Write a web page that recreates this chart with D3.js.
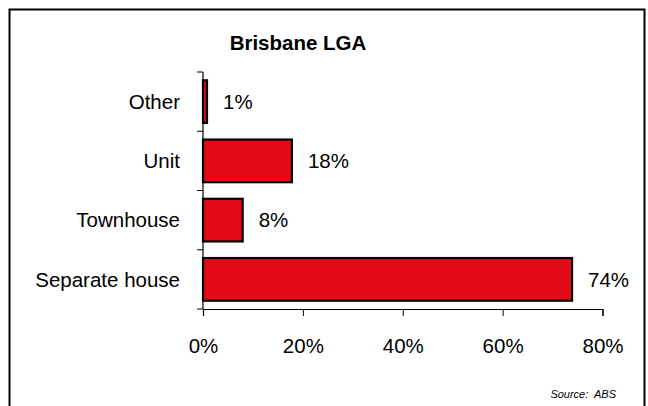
<!DOCTYPE html>
<html>
<head>
<meta charset="utf-8">
<script src="https://cdn.jsdelivr.net/npm/d3@7"></script>
<style>
  body { margin: 0; background: #fff; }
  text { font-family: "Liberation Sans", Arial, sans-serif; fill: #000; }
</style>
</head>
<body>
<div id="chart"></div>
<script>
var width = 648, height = 406;

// data
var categories = ["Other", "Unit", "Townhouse", "Separate house"];
var shares = [0.8, 17.8, 7.95, 73.9];
var valueLabels = ["1%", "18%", "8%", "74%"];
var xTicks = [0, 20, 40, 60, 80];

var margin = {top: 72, left: 203, right: 45.5, bottom: 97};
var fontSize = "20.5px";

var svg = d3.select("#chart").append("svg")
    .attr("width", width)
    .attr("height", height);

// frame round the whole chart (bottom edge runs off the picture)
svg.append("rect")
    .attr("x", 9.5)
    .attr("y", 9.5)
    .attr("width", 635)
    .attr("height", 420)
    .attr("fill", "none")
    .attr("stroke", "#000")
    .attr("stroke-width", 2);

var x = d3.scaleLinear()
    .domain([0, 80])
    .range([margin.left, width - margin.right]);

var y = d3.scaleBand()
    .domain(categories)
    .range([margin.top, height - margin.bottom])
    .paddingInner(0.28)
    .paddingOuter(0.14);

// bars
svg.selectAll("rect.bar")
    .data(categories)
    .enter().append("rect")
    .attr("class", "bar")
    .attr("x", x(0))
    .attr("y", function(d) { return y(d); })
    .attr("width", function(d, i) { return x(shares[i]) - x(0); })
    .attr("height", y.bandwidth())
    .attr("fill", "#e30b17")
    .attr("stroke", "#000")
    .attr("stroke-width", 2.2);

// value labels
svg.selectAll("text.val")
    .data(categories)
    .enter().append("text")
    .attr("class", "val")
    .attr("x", function(d, i) { return x(shares[i]) + 16; })
    .attr("y", function(d) { return y(d) + y.bandwidth() / 2; })
    .attr("dy", "0.35em")
    .style("font-size", fontSize)
    .text(function(d, i) { return valueLabels[i]; });

// x axis
var xAxis = svg.append("g")
    .attr("transform", "translate(0," + (height - margin.bottom) + ")")
    .call(d3.axisBottom(x)
        .tickValues(xTicks)
        .tickSize(7)
        .tickPadding(22)
        .tickFormat(function(d) { return d + "%"; }));

xAxis.select(".domain").attr("stroke", "#000").attr("stroke-width", 1.2);
xAxis.selectAll(".tick line").attr("stroke", "#000");
xAxis.selectAll(".tick text")
    .style("font-size", fontSize)
    .style("font-family", "'Liberation Sans', Arial, sans-serif");

// y axis: ticks sit between the categories
var yAxis = svg.append("g")
    .attr("transform", "translate(" + margin.left + ",0)");

yAxis.append("line")
    .attr("x1", 0).attr("x2", 0)
    .attr("y1", margin.top).attr("y2", height - margin.bottom)
    .attr("stroke", "#000")
    .attr("stroke-width", 1.2);

var step = y.step();
var bounds = d3.range(categories.length + 1).map(function(i) { return margin.top + i * step; });

yAxis.selectAll("line.tick")
    .data(bounds)
    .enter().append("line")
    .attr("class", "tick")
    .attr("x1", -6).attr("x2", 0)
    .attr("y1", function(d) { return d; })
    .attr("y2", function(d) { return d; })
    .attr("stroke", "#000");

yAxis.selectAll("text.cat")
    .data(categories)
    .enter().append("text")
    .attr("class", "cat")
    .attr("x", -23)
    .attr("y", function(d) { return y(d) + y.bandwidth() / 2; })
    .attr("dy", "0.35em")
    .attr("text-anchor", "end")
    .style("font-size", fontSize)
    .text(function(d) { return d; });

// title
svg.append("text")
    .attr("x", 298)
    .attr("y", 50)
    .attr("text-anchor", "middle")
    .style("font-size", "20.5px")
    .style("font-weight", "bold")
    .text("Brisbane LGA");

// source
svg.append("text")
    .attr("x", 616)
    .attr("y", 398)
    .attr("text-anchor", "end")
    .style("font-size", "11px")
    .style("font-style", "italic")
    .attr("xml:space", "preserve")
    .text("Source:  ABS");
</script>
</body>
</html>
